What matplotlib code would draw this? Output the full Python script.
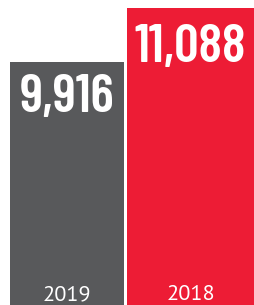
import matplotlib.pyplot as plt

years = ["2019", "2018"]
values = [9916, 11088]
colors = ["#58595b", "#ed1c35"]
widths = [0.923, 1.028]
label_drop = [12, 16]  # px below bar top

fig = plt.figure(figsize=(2.55, 3.05), dpi=100)
ax = fig.add_axes([0, 0, 1, 1])

bars = ax.bar(range(len(years)), values, width=widths, color=colors)
ax.set_xlim(-0.5425, 1.522)
ax.set_ylim(4648, 11261)
ax.axis("off")

for b, v, yr, d in zip(bars, values, years, label_drop):
    cx = b.get_x() + b.get_width() / 2
    ax.annotate(f"{v:,}", (cx, v), xytext=(0, -d * 0.72), textcoords="offset points",
                ha="center", va="top", color="white", fontsize=39,
                fontweight="semibold", family=["Barlow Condensed", "Roboto Condensed", "DejaVu Sans"])
    ax.annotate(yr, (cx, 4648), xytext=(0, 3.6), textcoords="offset points",
                ha="center", va="baseline", color="white", fontsize=16,
                family=["PT Sans", "Open Sans", "DejaVu Sans"])

fig.savefig("out.png", dpi=100)
